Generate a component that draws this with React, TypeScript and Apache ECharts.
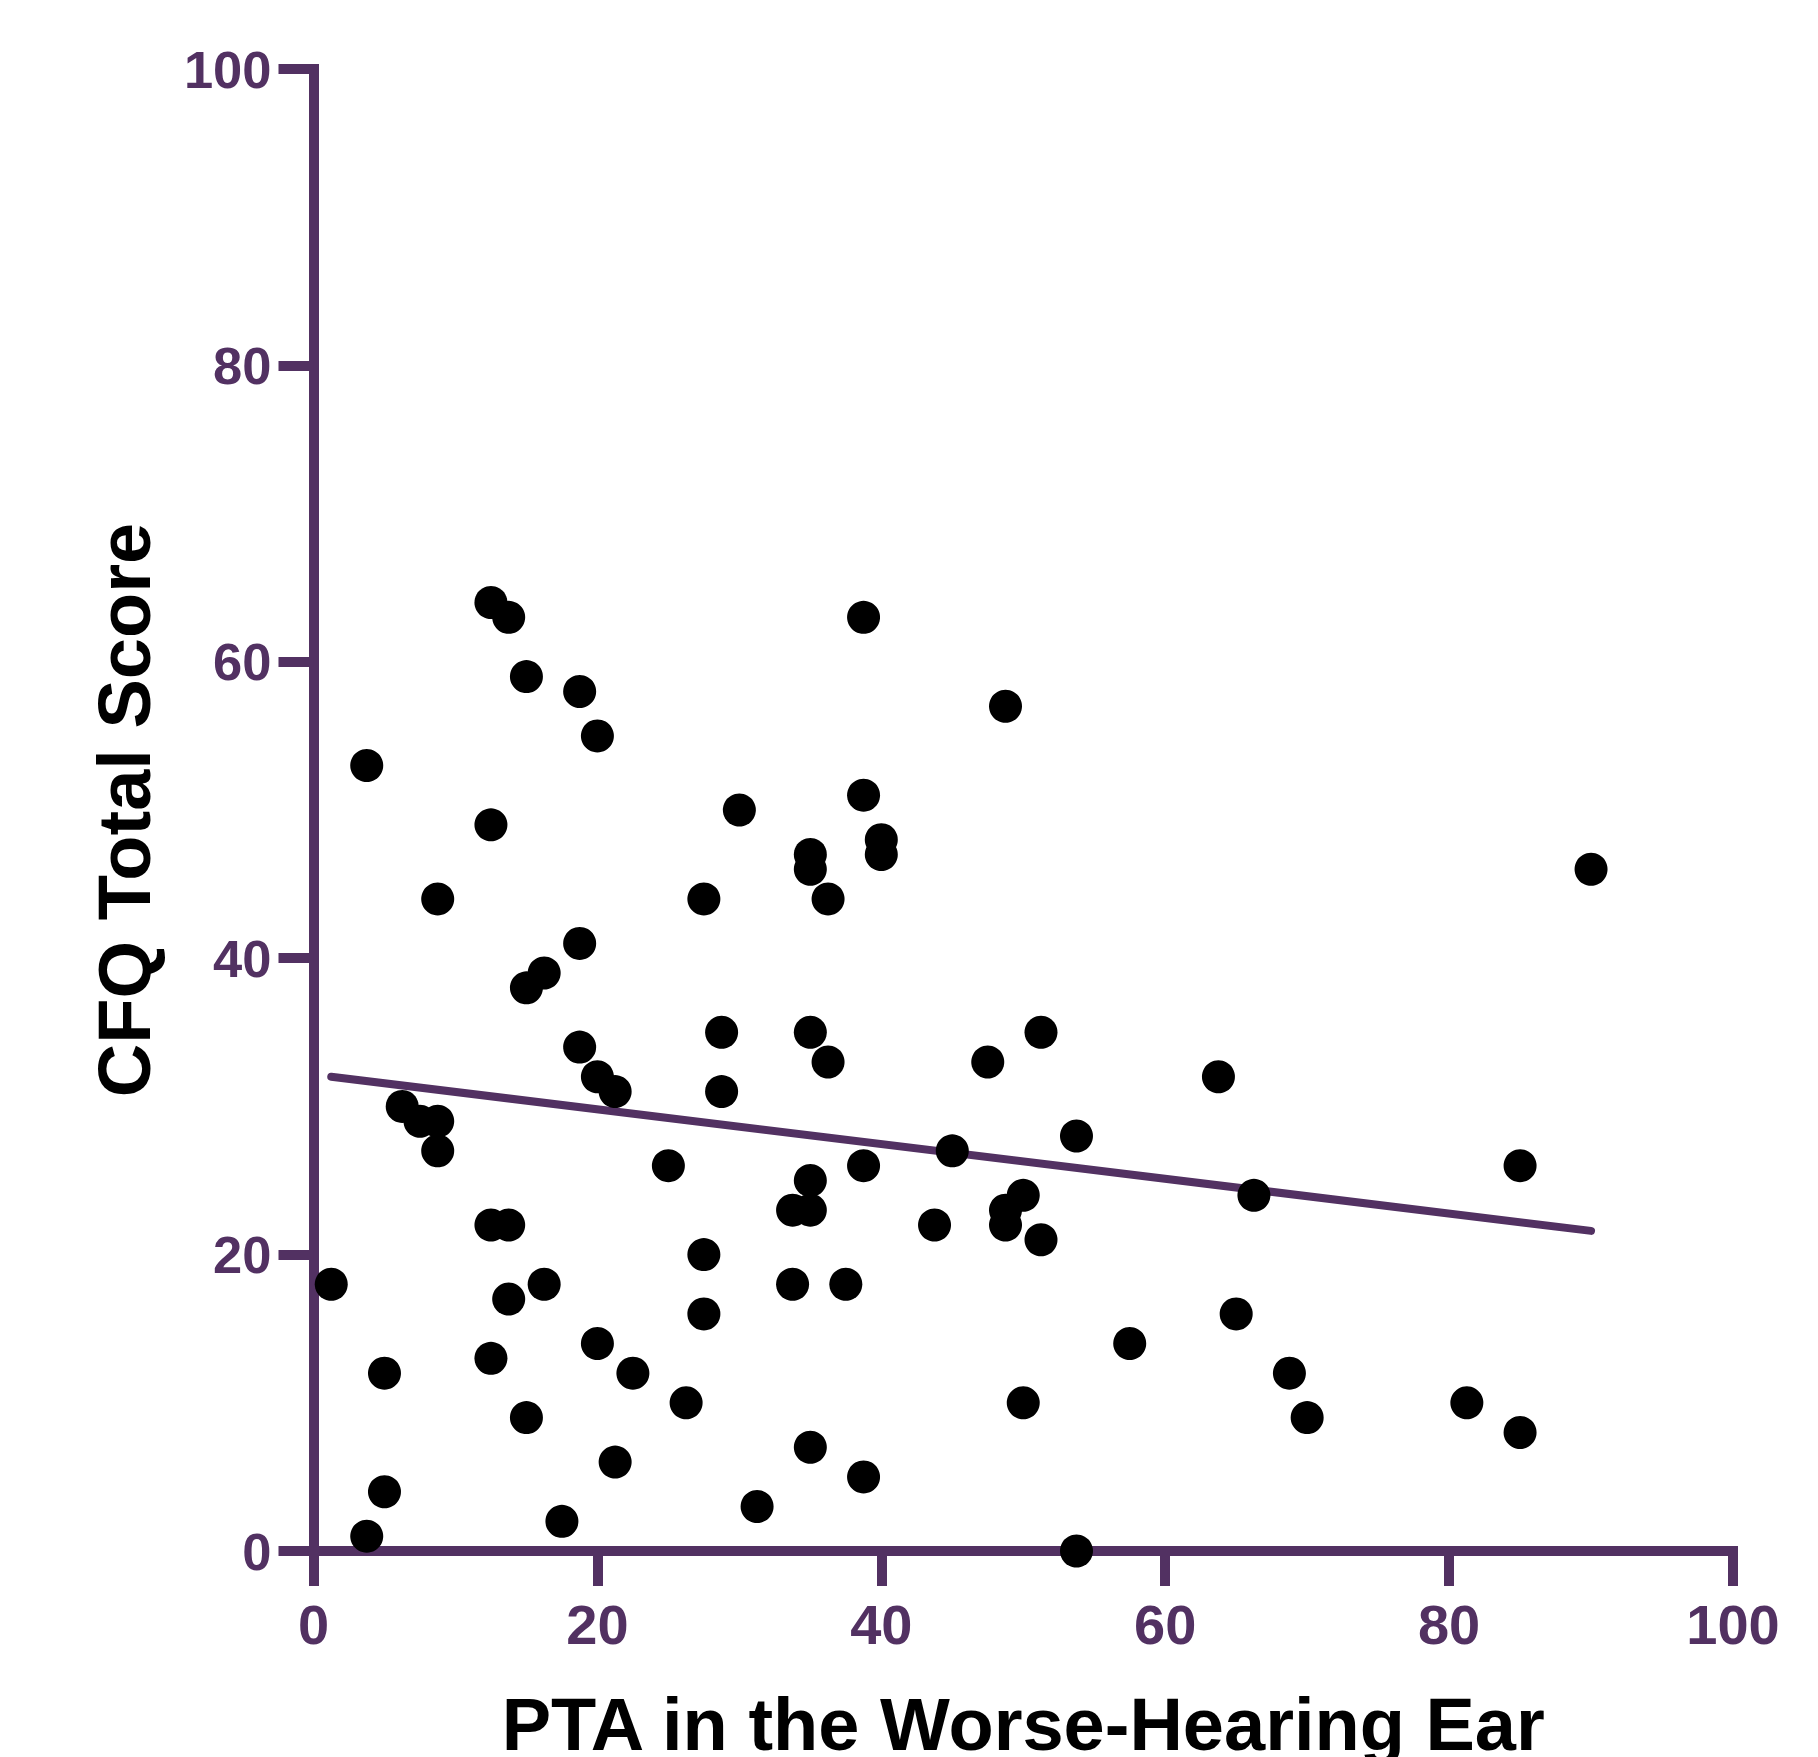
import React, { useEffect, useRef } from "react";
import * as echarts from "echarts";

// PTA (dB HL) in the worse-hearing ear
const ptaValues: number[] = [
  1.25, 3.75, 3.75, 5, 5, 6.25, 7.5, 8.75, 8.75, 8.75,
  12.5, 13.75, 15, 12.5, 18.75, 20, 18.75, 16.25, 15, 18.75,
  20, 21.25, 12.5, 13.75, 13.75, 16.25, 12.5, 15, 17.5, 20,
  22.5, 21.25, 25, 26.25, 27.5, 27.5, 27.5, 28.75, 28.75, 30,
  31.25, 33.75, 35, 33.75, 35, 35, 35, 35, 35, 36.25,
  36.25, 37.5, 38.75, 38.75, 38.75, 38.75, 40, 40, 43.75, 45,
  47.5, 48.75, 48.75, 48.75, 50, 50, 51.25, 51.25, 53.75, 53.75,
  57.5, 63.75, 65, 66.25, 68.75, 70, 81.25, 85, 85, 90,
];

// CFQ total score
const cfqValues: number[] = [
  18, 53, 1, 12, 4, 30, 29, 29, 27, 44,
  64, 63, 59, 49, 58, 55, 41, 39, 38, 34,
  32, 31, 22, 22, 17, 18, 13, 9, 2, 14,
  12, 6, 26, 10, 44, 20, 16, 35, 31, 50,
  3, 23, 23, 18, 47, 46, 35, 25, 7, 44,
  33, 18, 63, 51, 26, 5, 48, 47, 22, 27,
  33, 57, 23, 22, 24, 10, 35, 21, 28, 0,
  14, 32, 16, 24, 12, 9, 10, 26, 8, 46,
];

// fitted line end points
const fitX: number[] = [1.25, 90];
const fitY: number[] = [32.0, 21.6];

const xTicks: number[] = [0, 20, 40, 60, 80, 100];
const yTicks: number[] = [0, 20, 40, 60, 80, 100];

const xTitle = "PTA in the Worse-Hearing Ear";
const yTitle = "CFQ Total Score";

const PURPLE = "#523162";
const FONT = "Liberation Sans";

export default function App() {
  const ref = useRef<HTMLDivElement | null>(null);

  useEffect(() => {
    if (!ref.current) return;
    const chart = echarts.init(ref.current, undefined, { renderer: "svg" });

    const points = ptaValues.map((x, i) => [x, cfqValues[i]]);
    const fit = fitX.map((x, i) => [x, fitY[i]]);

    const axisCommon = {
      interval: 20,
      splitLine: { show: false },
      axisLine: {
        show: true,
        lineStyle: { color: PURPLE, width: 10, cap: "square" },
      },
      axisTick: {
        show: true,
        length: 35,
        lineStyle: { color: PURPLE, width: 10 },
      },
      nameLocation: "middle",
    };

    chart.setOption({
      animation: false,
      backgroundColor: "#ffffff",
      grid: {
        left: 313.5,
        right: 85,
        top: 69,
        bottom: 206,
        containLabel: false,
        outerBoundsMode: "none",
      },
      xAxis: {
        type: "value",
        ...axisCommon,
        min: xTicks[0],
        max: xTicks[xTicks.length - 1],
        name: xTitle,
        nameGap: 136,
        nameTextStyle: { color: "#000", fontSize: 74, fontWeight: "bold", fontFamily: FONT },
        axisLabel: {
          color: PURPLE,
          fontSize: 56,
          fontWeight: "bold",
          fontFamily: FONT,
          margin: 45,
        },
      },
      yAxis: {
        type: "value",
        ...axisCommon,
        min: yTicks[0],
        max: yTicks[yTicks.length - 1],
        name: yTitle,
        nameGap: 152,
        nameTextStyle: { color: "#000", fontSize: 74, fontWeight: "bold", fontFamily: FONT },
        axisLabel: {
          color: PURPLE,
          fontSize: 52.5,
          fontWeight: "bold",
          fontFamily: FONT,
          margin: 42,
        },
      },
      series: [
        {
          type: "line",
          data: fit,
          symbol: "none",
          lineStyle: { color: PURPLE, width: 8, cap: "round" },
          z: 2,
          silent: true,
        },
        {
          type: "scatter",
          data: points,
          symbol: "circle",
          symbolSize: 33,
          itemStyle: { color: "#000000", opacity: 1 },
          z: 3,
          silent: true,
        },
      ],
    });

    return () => {
      chart.dispose();
    };
  }, []);

  return (
    <div
      ref={ref}
      style={{ position: "absolute", left: 0, top: 0, width: 1818, height: 1757 }}
    />
  );
}
